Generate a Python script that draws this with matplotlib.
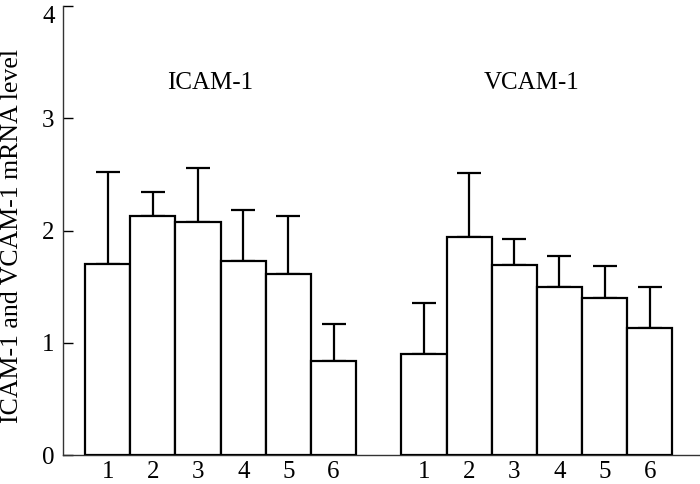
import matplotlib
matplotlib.use("Agg")
import matplotlib.pyplot as plt
import numpy as np

plt.rcParams['font.family'] = ['Liberation Serif', 'DejaVu Serif']

groups = ['ICAM-1', 'VCAM-1']
labels = ['1', '2', '3', '4', '5', '6']
icam = [1.70, 2.13, 2.08, 1.73, 1.61, 0.84]
icam_err = [0.82, 0.21, 0.48, 0.45, 0.52, 0.33]
vcam = [0.90, 1.94, 1.69, 1.50, 1.40, 1.13]
vcam_err = [0.45, 0.57, 0.23, 0.27, 0.28, 0.37]

x1 = np.arange(6)
x2 = np.arange(6) + 7

fig = plt.figure(figsize=(7, 4.84), dpi=100)
ax = fig.add_axes([0.09, 0.0599, 0.91, 0.9277])

for x, y, e in [(x1, icam, icam_err), (x2, vcam, vcam_err)]:
    ax.bar(x, y, width=1.0, color='white', edgecolor='black', linewidth=1.6, zorder=3)
    ax.errorbar(x, y, yerr=[np.zeros(6), e], fmt='none', ecolor='black',
                elinewidth=1.6, capsize=8.3, capthick=1.6, zorder=2)

ax.text(2.27, 3.31, groups[0], ha='center', va='center', fontsize=18)
ax.text(9.39, 3.31, groups[1], ha='center', va='center', fontsize=18)

ax.set_xlim(-0.99, 13.11)
ax.set_ylim(0, 4)
ax.set_yticks([0, 1, 2, 3, 4])
ax.set_xticks(np.concatenate([x1, x2]))
ax.set_xticklabels(labels + labels)
ax.tick_params(axis='y', direction='in', length=7, width=1, labelsize=18, pad=6)
ax.tick_params(axis='x', length=0, labelsize=18, pad=4)
ax.set_ylabel('ICAM-1 and VCAM-1 mRNA level', fontsize=18.6)
ax.yaxis.set_label_coords(-0.063, 0.488)
# top label sits below its tick so it is not cut at the edge
ax.get_yticklabels()[-1].set_verticalalignment('top')

ax.spines['top'].set_visible(False)
ax.spines['right'].set_visible(False)
ax.spines['left'].set_linewidth(1.0)
ax.spines['bottom'].set_linewidth(1.0)
ax.spines['left'].set_color('#333333')
ax.spines['bottom'].set_color('#333333')

fig.savefig('out.png', dpi=100)
